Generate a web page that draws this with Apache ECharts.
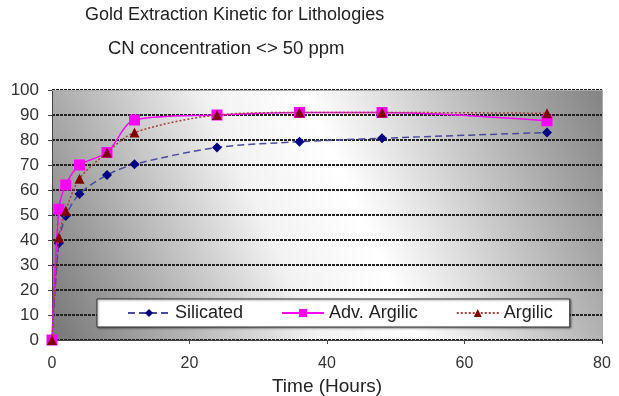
<!DOCTYPE html>
<html>
<head>
<meta charset="utf-8">
<script src="https://cdn.jsdelivr.net/npm/echarts@6/dist/echarts.min.js"></script>
<style>
html,body{margin:0;padding:0;background:#fff;}
#chart{width:619px;height:396px;}
</style>
</head>
<body>
<div id="chart"></div>
<script>
var titleText = "Gold Extraction Kinetic for Lithologies";
var subtitleText = "CN concentration <> 50 ppm";
var xAxisName = "Time (Hours)";
var hours = [0, 1, 2, 4, 8, 12, 24, 36, 48, 72];
var silicated = [0, 38.7, 49.6, 58.4, 66, 70.3, 77, 79.3, 80.7, 83];
var advArgilic = [0, 52.3, 62, 70, 75, 88, 90, 91, 91, 87.7];
var argilic = [0, 41, 51.7, 64.5, 75, 83, 90, 91, 91, 90.7];
var seriesNames = ["Silicated", "Adv. Argilic", "Argilic"];

function pairs(ys){ return hours.map(function(h,i){ return [h, ys[i]]; }); }

var chart = echarts.init(document.getElementById('chart'), null, {renderer:'canvas'});
var font = 'Arial, "Liberation Sans", sans-serif';
var option = {
  animation: false,
  textStyle: {fontFamily: font},
  title: [
    {text: titleText, left: 85, top: 6, padding: 0, textStyle:{fontFamily:font, fontSize:18, fontWeight:'normal', color:'#222'}},
    {text: subtitleText, left: 108, top: 39, padding: 0, textStyle:{fontFamily:font, fontSize:18.5, fontWeight:'normal', color:'#222'}}
  ],
  grid: {
    left: 52, right: 17, top: 90, bottom: 56, show: true,
    outerBoundsMode: 'none', containLabel: false,
    borderWidth: 0,
    backgroundColor: new echarts.graphic.LinearGradient(1, 0, 0, 1, [
      {offset: 0, color: '#838383'},
      {offset: 0.45, color: '#ffffff'},
      {offset: 0.6, color: '#f2f2f2'},
      {offset: 1, color: '#757575'}
    ])
  },
  legend: {
    data: seriesNames,
    left: 97, top: 299,
    itemWidth: 42, itemHeight: 10, itemGap: 38,
    padding: [5, 17, 5, 30],
    backgroundColor: '#fff',
    borderColor: '#333', borderWidth: 1,
    shadowColor: 'rgba(0,0,0,0.4)', shadowOffsetX: 1, shadowOffsetY: 1, shadowBlur: 2,
    textStyle: {fontFamily: font, fontSize: 18, color: '#222'}
  },
  xAxis: [{
    type: 'value', min: 0, max: 80, interval: 20,
    name: xAxisName, nameLocation: 'middle', nameGap: 34,
    nameTextStyle: {fontFamily: font, fontSize: 19, color: '#222'},
    axisLine: {show: true, lineStyle: {color: '#444', width: 1}},
    axisTick: {show: true, length: 4, lineStyle: {color: '#444'}},
    axisLabel: {fontFamily: font, fontSize: 16, color: '#333', margin: 16},
    splitLine: {show: false}
  }, {
    type: 'value', min: 0, max: 80, position: 'top',
    axisLine: {show: true, onZero: false, lineStyle: {color: '#aaa', width: 1}},
    axisTick: {show: false}, axisLabel: {show: false}, splitLine: {show: false}
  }],
  yAxis: [{
    type: 'value', min: 0, max: 100, interval: 10,
    axisLine: {show: true, lineStyle: {color: '#444', width: 1}},
    axisTick: {show: true, length: 4, lineStyle: {color: '#444'}},
    axisLabel: {fontFamily: font, fontSize: 17, color: '#333', margin: 13},
    splitLine: {show: true, lineStyle: {color: '#222', width: 1.8, type: [3, 1]}}
  }, {
    type: 'value', min: 0, max: 100, position: 'right',
    axisLine: {show: true, onZero: false, lineStyle: {color: '#aaa', width: 1}},
    axisTick: {show: false}, axisLabel: {show: false}, splitLine: {show: false}
  }],
  series: [
    {
      name: seriesNames[0], type: 'line', data: pairs(silicated), smooth: 0.3,
      symbol: 'diamond', symbolSize: 10,
      itemStyle: {color: '#000080'},
      lineStyle: {color: '#4a4a9a', width: 1.5, type: [7, 4]},
      z: 3
    },
    {
      name: seriesNames[1], type: 'line', data: pairs(advArgilic), smooth: 0.3,
      symbol: 'rect', symbolSize: 11,
      itemStyle: {color: '#ff00ff'},
      lineStyle: {color: '#ff00ff', width: 1.5},
      z: 4
    },
    {
      name: seriesNames[2], type: 'line', data: pairs(argilic), smooth: 0.3,
      symbol: 'triangle', symbolSize: 10,
      itemStyle: {color: '#800000'},
      lineStyle: {color: '#a04040', width: 1.5, type: [2, 2]},
      z: 5
    }
  ]
};
chart.setOption(option);
</script>
</body>
</html>
